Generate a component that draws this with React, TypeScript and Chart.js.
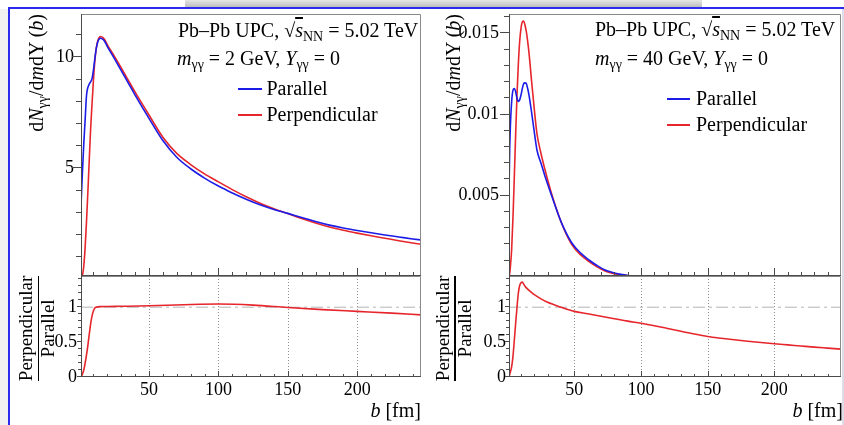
import React, { useEffect, useRef } from 'react';
import { Chart, registerables } from 'chart.js';

Chart.register(...registerables);

// ---------------- data ----------------
// m_gg = 2 GeV panel
const B_LOW = [1, 2, 3, 4, 5, 6, 7, 8, 9, 10, 11, 12, 13, 14, 15, 16, 18, 20, 25, 30, 35, 40, 50, 60, 70, 80, 90, 100, 110, 120, 130, 140, 150, 160, 170, 180, 190, 200, 210, 220, 230, 240, 246];
const LOW_PARALLEL = [3.3, 4.8, 6.1, 7.2, 8.3, 8.65, 8.8, 8.9, 9.05, 9.45, 9.95, 10.4, 10.68, 10.82, 10.86, 10.84, 10.72, 10.48, 9.95, 9.4, 8.85, 8.3, 7.25, 6.25, 5.5, 4.98, 4.56, 4.2, 3.89, 3.61, 3.36, 3.15, 2.97, 2.78, 2.6, 2.44, 2.31, 2.2, 2.1, 2.0, 1.91, 1.82, 1.77];
const LOW_PERPENDICULAR = [0.15, 0.2, 0.6, 1.45, 2.65, 4.0, 5.45, 6.85, 7.95, 9.0, 9.85, 10.4, 10.72, 10.88, 10.93, 10.92, 10.8, 10.56, 10.05, 9.52, 8.97, 8.43, 7.4, 6.4, 5.67, 5.17, 4.75, 4.39, 4.04, 3.72, 3.43, 3.18, 2.96, 2.74, 2.54, 2.36, 2.21, 2.08, 1.96, 1.85, 1.74, 1.64, 1.58];
const B_LOW_RATIO = [1, 2, 3, 4, 5, 6, 7, 8, 9, 10, 11, 12, 13, 15, 20, 30, 50, 75, 100, 125, 150, 175, 200, 225, 246];
const LOW_RATIO = [0.0, 0.04, 0.1, 0.2, 0.32, 0.46, 0.62, 0.77, 0.88, 0.95, 0.99, 1.0, 1.005, 1.008, 1.01, 1.013, 1.02, 1.035, 1.045, 1.03, 0.995, 0.965, 0.94, 0.915, 0.89];

// m_gg = 40 GeV panel
const B_HIGH = [1, 1.5, 2, 3, 4, 5, 6, 7, 8, 9, 10, 11, 12, 13, 14, 15, 16, 18, 20, 22, 25, 28, 33, 40, 48, 55, 61, 67, 73, 80, 86, 91];
const HIGH_PARALLEL = [0.0052, 0.0078, 0.0092, 0.0108, 0.0115, 0.0116, 0.0114, 0.011, 0.0108, 0.0109, 0.0112, 0.0116, 0.0119, 0.01195, 0.0119, 0.0116, 0.0112, 0.0101, 0.0089, 0.0078, 0.007, 0.0062, 0.005, 0.0034, 0.0021, 0.00145, 0.00104, 0.0007, 0.00042, 0.00024, 0.00014, 0.00008];
const HIGH_PERPENDICULAR = [0.00005, 0.0002, 0.0006, 0.0017, 0.0037, 0.0062, 0.0088, 0.0112, 0.0131, 0.0145, 0.0153, 0.0157, 0.01575, 0.0155, 0.0151, 0.0145, 0.0138, 0.012, 0.0103, 0.0088, 0.0076, 0.0066, 0.0051, 0.0034, 0.002, 0.00133, 0.00094, 0.00062, 0.00036, 0.0002, 0.00011, 0.000065];
const B_HIGH_RATIO = [1, 2, 3, 4, 5, 6, 7, 8, 9, 10, 11, 12, 13, 15, 18, 20, 25, 30, 40, 50, 60, 70, 80, 90, 100, 110, 120, 130, 140, 150, 160, 170, 180, 190, 200, 210, 220, 230, 240, 250];
const HIGH_RATIO = [0.0, 0.07, 0.15, 0.3, 0.53, 0.77, 1.0, 1.2, 1.31, 1.35, 1.36, 1.33, 1.3, 1.26, 1.21, 1.18, 1.12, 1.07, 1.0, 0.94, 0.905, 0.87, 0.835, 0.8, 0.77, 0.735, 0.695, 0.655, 0.615, 0.58, 0.555, 0.533, 0.513, 0.494, 0.476, 0.46, 0.444, 0.428, 0.414, 0.4];

// ticks / labels
const X_LABEL_TICKS = [50, 100, 150, 200];
const Y_TICKS_LOW = [5, 10];
const Y_LABELS_LOW = ['5', '10'];
const Y_TICKS_HIGH = [0.005, 0.01, 0.015];
const Y_LABELS_HIGH = ['0.005', '0.01', '0.015'];
const Y_TICKS_RATIO = [0, 0.5, 1];
const Y_LABELS_RATIO = ['0', '0.5', '1'];
const SERIES_NAMES = ['Parallel', 'Perpendicular'];

// ---------------- styling ----------------
const BLUE = '#1c1ce8';
const RED = '#e6262c';
const AXIS = '#4a4a4a';
const FRAME = '#8a8a8a';
const FONT = "'Liberation Serif', 'DejaVu Serif', 'Times New Roman', serif";

const pts = (xs: number[], ys: number[]) => xs.map((x, i) => ({ x, y: ys[i] }));
const intRange = (a: number, b: number) => {
  const r: number[] = [];
  for (let k = a; k <= b; k++) r.push(k);
  return r;
};
const X_MINOR = intRange(1, 24).filter((k) => k % 5 !== 0).map((k) => k * 10);
const Y_MINOR_LOW = intRange(1, 11).filter((k) => k % 5 !== 0);
const Y_MINOR_HIGH = intRange(1, 16).filter((k) => k % 5 !== 0).map((k) => k / 1000);
const Y_MINOR_RATIO = intRange(1, 14).filter((k) => k % 5 !== 0).map((k) => k / 10);

type FrameSpec = {
  xMajor: number[]; xMinor: number[]; xMajLen: number; xMinLen: number;
  yMajor: number[]; yMinor: number[]; yMajLen: number; yMinLen: number; yMinorInside?: boolean;
  dotted?: number[];
};

function makeFramePlugin(spec: FrameSpec) {
  return {
    id: 'rootFrame',
    beforeDatasetsDraw(chart: any) {
      if (!spec.dotted) return;
      const { ctx, chartArea: ca } = chart;
      const x = chart.scales.x;
      ctx.save();
      ctx.strokeStyle = '#8f8f8f';
      ctx.lineWidth = 1;
      ctx.setLineDash([1, 2]);
      spec.dotted.forEach((v) => {
        const px = Math.round(x.getPixelForValue(v)) + 0.5;
        ctx.beginPath();
        ctx.moveTo(px, ca.top);
        ctx.lineTo(px, ca.bottom);
        ctx.stroke();
      });
      ctx.restore();
    },
    afterDatasetsDraw(chart: any) {
      const { ctx, chartArea: ca } = chart;
      const x = chart.scales.x;
      const y = chart.scales.y;
      const seg = (x1: number, y1: number, x2: number, y2: number) => {
        ctx.beginPath();
        ctx.moveTo(x1, y1);
        ctx.lineTo(x2, y2);
        ctx.stroke();
      };
      ctx.save();
      ctx.setLineDash([]);
      ctx.lineWidth = 1;
      ctx.strokeStyle = FRAME;
      ctx.beginPath();
      ctx.moveTo(ca.left, ca.top + 0.5);
      ctx.lineTo(ca.right - 0.5, ca.top + 0.5);
      ctx.lineTo(ca.right - 0.5, ca.bottom);
      ctx.stroke();
      ctx.strokeStyle = AXIS;
      ctx.beginPath();
      ctx.moveTo(ca.left + 0.5, ca.top);
      ctx.lineTo(ca.left + 0.5, ca.bottom - 0.5);
      ctx.lineTo(ca.right, ca.bottom - 0.5);
      ctx.stroke();
      spec.xMajor.forEach((v) => {
        const px = Math.round(x.getPixelForValue(v)) + 0.5;
        seg(px, ca.bottom, px, ca.bottom - spec.xMajLen);
      });
      spec.xMinor.forEach((v) => {
        const px = Math.round(x.getPixelForValue(v)) + 0.5;
        if (px < ca.right) seg(px, ca.bottom, px, ca.bottom - spec.xMinLen);
      });
      spec.yMajor.forEach((v) => {
        const py = Math.round(y.getPixelForValue(v)) - 0.5;
        seg(ca.left + 1, py, ca.left - spec.yMajLen, py);
      });
      spec.yMinor.forEach((v) => {
        const py = Math.round(y.getPixelForValue(v)) - 0.5;
        if (py <= ca.top) return;
        if (spec.yMinorInside) seg(ca.left, py, ca.left + spec.yMinLen, py);
        else seg(ca.left + 1, py, ca.left - spec.yMinLen, py);
      });
      ctx.restore();
    },
  };
}

type PanelOpts = {
  datasets: any[];
  xMin: number; xMax: number; yMin: number; yMax: number;
  yTicks: number[]; yLabels: string[]; yPad: number; yWidth: number;
  showX: boolean; xHeight: number; padTop: number;
  frame: FrameSpec;
};

function makeConfig(p: PanelOpts): any {
  return {
    type: 'line',
    data: { datasets: p.datasets },
    options: {
      animation: false,
      responsive: false,
      events: [],
      layout: { autoPadding: false, padding: { top: p.padTop, right: 3, bottom: p.showX ? 0 : 2, left: 0 } },
      plugins: { legend: { display: false }, tooltip: { enabled: false } },
      elements: { point: { radius: 0 } },
      scales: {
        x: {
          type: 'linear',
          min: p.xMin,
          max: p.xMax,
          grid: { display: false, drawTicks: false },
          border: { display: false },
          ticks: {
            display: p.showX,
            font: { family: FONT, size: 18 },
            color: '#000',
            padding: 2,
            autoSkip: false,
            maxRotation: 0,
          },
          afterBuildTicks: (s: any) => {
            s.ticks = X_LABEL_TICKS.map((v) => ({ value: v }));
          },
          afterFit: (s: any) => {
            s.height = p.xHeight;
            s.paddingLeft = 0;
            s.paddingRight = 0;
          },
        },
        y: {
          type: 'linear',
          min: p.yMin,
          max: p.yMax,
          grid: { display: false, drawTicks: false },
          border: { display: false },
          ticks: {
            font: { family: FONT, size: 18 },
            color: '#000',
            padding: p.yPad,
            autoSkip: false,
            callback: (v: number) => {
              const i = p.yTicks.findIndex((t) => Math.abs(t - v) < 1e-9);
              return i >= 0 ? p.yLabels[i] : '';
            },
          },
          afterBuildTicks: (s: any) => {
            s.ticks = p.yTicks.map((v) => ({ value: v }));
          },
          afterFit: (s: any) => {
            s.width = p.yWidth;
            s.paddingTop = 0;
            s.paddingBottom = 0;
          },
        },
      },
    },
    plugins: [makeFramePlugin(p.frame)],
  };
}

const line = (label: string, xs: number[], ys: number[], color: string) => ({
  label,
  data: pts(xs, ys),
  borderColor: color,
  borderWidth: 1.6,
  pointRadius: 0,
  fill: false,
  cubicInterpolationMode: 'monotone',
});

const refLine = (xMin: number, xMax: number) => ({
  label: 'ref',
  data: [{ x: xMin, y: 1 }, { x: xMax, y: 1 }],
  borderColor: '#b4b4b4',
  borderWidth: 1,
  borderDash: [12, 4, 3, 4],
  pointRadius: 0,
  fill: false,
});

function ChartCanvas({ left, top, width, height, build }: { left: number; top: number; width: number; height: number; build: () => any }) {
  const ref = useRef<HTMLCanvasElement | null>(null);
  useEffect(() => {
    const c = new Chart(ref.current as HTMLCanvasElement, build());
    return () => c.destroy();
  }, []);
  return <canvas ref={ref} width={width} height={height} style={{ position: 'absolute', left, top, width, height }} />;
}

const topFrame = (yMajor: number[], yMinor: number[]): FrameSpec => ({
  xMajor: X_LABEL_TICKS, xMinor: X_MINOR, xMajLen: 8, xMinLen: 4,
  yMajor, yMinor, yMajLen: 9, yMinLen: 5,
});
const ratioFrame: FrameSpec = {
  xMajor: X_LABEL_TICKS, xMinor: X_MINOR, xMajLen: 6, xMinLen: 3,
  yMajor: Y_TICKS_RATIO, yMinor: Y_MINOR_RATIO, yMajLen: 4, yMinLen: 3,
  dotted: X_LABEL_TICKS,
};

const Sub = ({ children }: { children: React.ReactNode }) => (
  <span style={{ fontSize: '0.7em', position: 'relative', top: '0.32em' }}>{children}</span>
);

const Txt = ({ left, top, right, children, size = 20 }: any) => (
  <div style={{ position: 'absolute', left, top, right, fontSize: size, lineHeight: `${size}px`, whiteSpace: 'nowrap' }}>{children}</div>
);

const Rot = ({ cx, cy, w, align, size = 20, children }: any) => (
  <div
    style={{
      position: 'absolute',
      left: cx - w / 2,
      top: cy - size * 0.6,
      width: w,
      height: size * 1.2,
      lineHeight: `${size * 1.2}px`,
      fontSize: size,
      textAlign: align,
      whiteSpace: 'nowrap',
      transform: 'rotate(-90deg)',
      transformOrigin: 'center center',
    }}
  >
    {children}
  </div>
);

const Seg = ({ x1, x2, y, color }: any) => (
  <div style={{ position: 'absolute', left: x1, top: Math.round(y) - 1, width: x2 - x1, height: 2, background: color }} />
);

const YTitle = () => (
  <>
    d<i>N</i>
    <Sub>γγ</Sub>/d<i>m</i>dY (<i>b</i>)
  </>
);

const Energy = () => (
  <>
    Pb–Pb UPC, √<span style={{ textDecoration: 'overline' }}><i>s</i></span>
    <Sub>NN</Sub> = 5.02 TeV
  </>
);

const Mass = ({ m }: { m: string }) => (
  <>
    <i>m</i>
    <Sub>γγ</Sub> = {m} GeV, <i>Y</i>
    <Sub>γγ</Sub> = 0
  </>
);

const RatioTitle = ({ c1, bar, c2 }: { c1: number; bar: number; c2: number }) => (
  <>
    <Rot cx={c1} cy={328} w={140} align="center" size={19}>Perpendicular</Rot>
    <div style={{ position: 'absolute', left: bar - 0.7, top: 276, width: 1.4, height: 105, background: '#000' }} />
    <Rot cx={c2} cy={328} w={140} align="center" size={19}>Parallel</Rot>
  </>
);

export default function App() {
  const lowTop = () =>
    makeConfig({
      datasets: [line(SERIES_NAMES[0], B_LOW, LOW_PARALLEL, BLUE), line(SERIES_NAMES[1], B_LOW, LOW_PERPENDICULAR, RED)],
      xMin: 1, xMax: 246, yMin: 0.15, yMax: 11.95,
      yTicks: Y_TICKS_LOW, yLabels: Y_LABELS_LOW, yPad: 7, yWidth: 81,
      showX: false, xHeight: 2, padTop: 14,
      frame: topFrame(Y_TICKS_LOW, Y_MINOR_LOW),
    });
  const highTop = () =>
    makeConfig({
      datasets: [line(SERIES_NAMES[0], B_HIGH, HIGH_PARALLEL, BLUE), line(SERIES_NAMES[1], B_HIGH, HIGH_PERPENDICULAR, RED)],
      xMin: 1, xMax: 250, yMin: 0.000055, yMax: 0.01619,
      yTicks: Y_TICKS_HIGH, yLabels: Y_LABELS_HIGH, yPad: 10, yWidth: 85,
      showX: false, xHeight: 2, padTop: 14,
      frame: topFrame(Y_TICKS_HIGH, Y_MINOR_HIGH),
    });
  const lowRatio = () =>
    makeConfig({
      datasets: [line('ratio', B_LOW_RATIO, LOW_RATIO, RED), refLine(1, 246)],
      xMin: 1, xMax: 246, yMin: 0, yMax: 1.447,
      yTicks: Y_TICKS_RATIO, yLabels: Y_LABELS_RATIO, yPad: 4, yWidth: 81,
      showX: true, xHeight: 48, padTop: 6,
      frame: ratioFrame,
    });
  const highRatio = () =>
    makeConfig({
      datasets: [line('ratio', B_HIGH_RATIO, HIGH_RATIO, RED), refLine(1, 250)],
      xMin: 1, xMax: 250, yMin: 0, yMax: 1.447,
      yTicks: Y_TICKS_RATIO, yLabels: Y_LABELS_RATIO, yPad: 3, yWidth: 85,
      showX: true, xHeight: 48, padTop: 6,
      frame: ratioFrame,
    });

  return (
    <div
      style={{
        position: 'fixed', left: 0, top: 0, width: 844, height: 425, overflow: 'hidden',
        background: '#fff', fontFamily: FONT, color: '#000',
      }}
    >
      {/* surrounding screenshot frame */}
      <div style={{ position: 'absolute', left: 185, top: 0, width: 517, height: 7, background: 'linear-gradient(#e6e6e6, #bdbdbd)' }} />
      <div style={{ position: 'absolute', left: 0, top: 9, width: 8, height: 416, background: '#f1f1f1' }} />
      <div style={{ position: 'absolute', left: 8, top: 7, width: 836, height: 2, background: '#2b2bf0' }} />
      <div style={{ position: 'absolute', left: 8, top: 7, width: 2, height: 418, background: '#2b2bf0' }} />
      <div style={{ position: 'absolute', left: 842, top: 9, width: 2, height: 416, background: '#dcdcea' }} />

      <ChartCanvas left={0} top={0} width={424} height={280} build={lowTop} />
      <ChartCanvas left={424} top={0} width={420} height={280} build={highTop} />
      <ChartCanvas left={0} top={270} width={424} height={155} build={lowRatio} />
      <ChartCanvas left={424} top={270} width={420} height={155} build={highRatio} />

      {/* left panel texts */}
      <Rot cx={36} cy={145} w={262} align="right"><YTitle /></Rot>
      <Txt left={178} top={20}><Energy /></Txt>
      <Txt left={177} top={48}><Mass m="2" /></Txt>
      <Seg x1={238} x2={262} y={89.3} color={BLUE} />
      <Txt left={266.5} top={78.3}>{SERIES_NAMES[0]}</Txt>
      <Seg x1={238} x2={262} y={115} color={RED} />
      <Txt left={266.5} top={104}>{SERIES_NAMES[1]}</Txt>
      <RatioTitle c1={25.5} bar={38.3} c2={47.5} />
      <Txt right={423} top={400}><i>b</i> [fm]</Txt>

      {/* right panel texts */}
      <Rot cx={453} cy={145} w={262} align="right"><YTitle /></Rot>
      <Txt left={595} top={19}><Energy /></Txt>
      <Txt left={595} top={48}><Mass m="40" /></Txt>
      <Seg x1={667} x2={690} y={99} color={BLUE} />
      <Txt left={696} top={88.3}>{SERIES_NAMES[0]}</Txt>
      <Seg x1={667} x2={690} y={125} color={RED} />
      <Txt left={696} top={114}>{SERIES_NAMES[1]}</Txt>
      <RatioTitle c1={443} bar={455} c2={465} />
      <Txt right={1} top={400}><i>b</i> [fm]</Txt>
    </div>
  );
}
